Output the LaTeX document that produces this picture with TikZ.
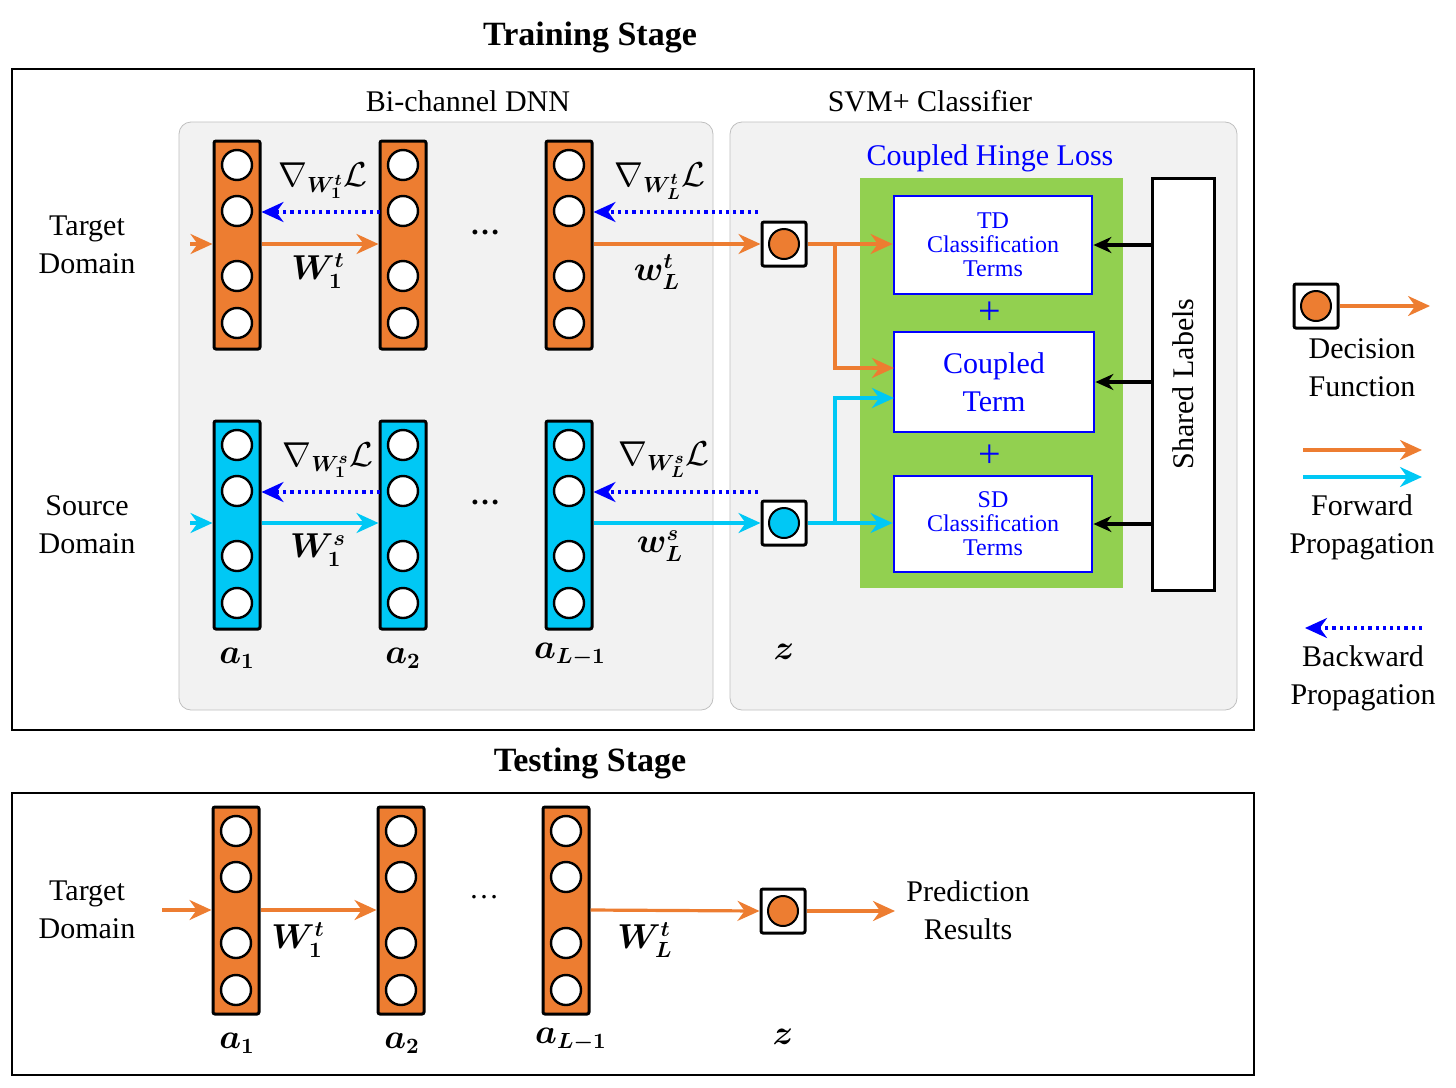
\documentclass[tikz,border=0pt]{standalone}
\usepackage{fontspec}
\usepackage{amsmath,bm}
\setmainfont{Liberation Serif}
\usetikzlibrary{arrows.meta}
\definecolor{org}{RGB}{237,125,49}
\definecolor{cya}{RGB}{0,200,245}
\definecolor{grn}{RGB}{146,208,80}
\definecolor{pnl}{RGB}{242,242,242}
\begin{document}
\begin{tikzpicture}[x=0.5pt,y=-0.5pt,
 layer/.style={draw=black,line width=1.5pt,rounded corners=1pt},
 neu/.style={draw=black,line width=1.2pt,fill=white,circle,minimum size=15pt,inner sep=0},
 fa/.style={-{Stealth[length=11pt,width=10pt]},line width=1.6pt},
 ba/.style={-{Stealth[length=11pt,width=10pt]},line width=1.6pt,blue,dotted},
 bk/.style={-{Stealth[length=9pt,width=8pt]},line width=1.6pt,black},
 tb/.style={draw=blue,line width=1.4pt,fill=white,text=blue,align=center},
 txt/.style={font=\fontsize{15}{19}\selectfont,align=center},
 lab/.style={font=\fontsize{16}{18}\selectfont}]
\useasboundingbox (0,0) rectangle (1456,1087);
% titles and boxes
\node[font=\bfseries\fontsize{17}{20}\selectfont] (t1) at (590,37) {Training Stage};
\draw[line width=1pt] (12,69) rectangle (1254,730);
\draw[rounded corners=6pt,fill=pnl,draw=gray!50] (179,122) rectangle (713,710);
\draw[rounded corners=6pt,fill=pnl,draw=gray!50] (730,122) rectangle (1237,710);
\node[txt] (bc) at (468,101) {Bi-channel DNN};
\node[txt] (svm) at (930,101) {SVM+ Classifier};
\fill[grn] (860,178) rectangle (1123,588);
\node[txt,text=blue] (chl) at (990,158) {Coupled Hinge Loss};
\node[draw,line width=1.5pt,fill=white,minimum width=31pt,minimum height=206pt,inner sep=0] (sl) at (1183,384) {};
\node[txt,rotate=90] at (1183,384) {Shared Labels};
\node[tb,minimum width=99pt,minimum height=49pt,font=\fontsize{12}{12}\selectfont,inner sep=0] (td) at (993,245) {TD\\Classification\\Terms};
\node[tb,minimum width=100pt,minimum height=50pt,font=\fontsize{15}{19}\selectfont,inner sep=0] (ct) at (994,382) {Coupled\\Term};
\node[tb,minimum width=99pt,minimum height=48pt,font=\fontsize{12}{12}\selectfont,inner sep=0] (sd) at (993,524) {SD\\Classification\\Terms};
\node[text=blue,font=\fontsize{20}{20}\selectfont] (p1) at (990,313) {+};
\node[text=blue,font=\fontsize{20}{20}\selectfont] (p2) at (990,456) {+};
\draw[bk] (sl.west|-td) -- (td.east);
\draw[bk] (sl.west|-ct) -- (ct.east);
\draw[bk] (sl.west|-sd) -- (sd.east);
% layers
\foreach \x/\n in {237/a,403/b,569/c}{
 \node[layer,fill=org,minimum width=23pt,minimum height=104pt,inner sep=0] (o\n) at (\x,245) {};
 \foreach \y in {165,211,276,323} \node[neu] at (\x,\y) {};
 \node[layer,fill=cya,minimum width=23pt,minimum height=104pt,inner sep=0] (s\n) at (\x,525) {};
 \foreach \y in {445,491,556,603} \node[neu] at (\x,\y) {};
}
\node[txt] at (485,232) {\textbf{\dots}};
\node[txt] at (485,502) {\textbf{\dots}};
\node[txt] (tdm) at (87,245) {Target\\Domain};
\node[txt] (sdm) at (87,525) {Source\\Domain};
% z nodes
\node[draw,line width=1.5pt,fill=white,minimum size=22pt,inner sep=0,rounded corners=1pt] (zo) at (784,244) {};
\fill[org,draw=black,line width=1pt] (zo) circle (7.5pt);
\node[draw,line width=1.5pt,fill=white,minimum size=22pt,inner sep=0,rounded corners=1pt] (zs) at (784,523) {};
\fill[cya,draw=black,line width=1pt] (zs) circle (7.5pt);
% forward
\coordinate (ti) at (190,244); \coordinate (si) at (190,523);
\draw[fa,org] (ti) -- (oa.west|-ti);
\draw[fa,org] (oa.east|-ti) -- (ob.west|-ti);
\draw[fa,org] (oc.east|-ti) -- (zo.west);
\draw[fa,cya] (si) -- (sa.west|-si);
\draw[fa,cya] (sa.east|-si) -- (sb.west|-si);
\draw[fa,cya] (sc.east|-si) -- (zs.west);
\draw[fa,org] (zo.east) -- (td.west|-zo);
\draw[fa,org] (835,244) |- (894,368);
\draw[fa,cya] (zs.east) -- (sd.west|-zs);
\draw[fa,cya] (835,523) |- (894,398);
% backward
\coordinate (b1) at (380,212); \coordinate (b2) at (758,212);
\coordinate (b3) at (380,492); \coordinate (b4) at (758,492);
\draw[ba] (b1) -- (oa.east|-b1);
\draw[ba] (b2) -- (oc.east|-b2);
\draw[ba] (b3) -- (sa.east|-b3);
\draw[ba] (b4) -- (sc.east|-b4);
% labels
\node[lab] at (318,271) {$\bm{W_1^t}$};
\node[lab] at (657,272) {$\bm{w_L^t}$};
\node[lab] at (318,550) {$\bm{W_1^s}$};
\node[lab] at (660,546) {$\bm{w_L^s}$};
\node[lab] at (323,181) {$\nabla_{\bm{W_1^t}}\mathcal{L}$};
\node[lab] at (660,181) {$\nabla_{\bm{W_L^t}}\mathcal{L}$};
\node[lab] at (328,460) {$\nabla_{\bm{W_1^s}}\mathcal{L}$};
\node[lab] at (664,460) {$\nabla_{\bm{W_L^s}}\mathcal{L}$};
\node[lab] at (237,658) {$\bm{a_1}$};
\node[lab] at (403,658) {$\bm{a_2}$};
\node[lab] at (570,655) {$\bm{a_{L-1}}$};
\node[lab] at (784,652) {$\bm{z}$};
% legend
\node[draw,line width=1.5pt,fill=white,minimum size=22pt,inner sep=0,rounded corners=1pt] (lz) at (1316,306) {};
\fill[org,draw=black,line width=1pt] (lz) circle (7.5pt);
\coordinate (le) at (1430,306);
\draw[fa,org] (lz.east) -- (le);
\node[txt] at (1362,368) {Decision\\Function};
\coordinate (f1) at (1303,450); \coordinate (f2) at (1422,450);
\coordinate (f3) at (1303,477); \coordinate (f4) at (1422,477);
\draw[fa,org] (f1) -- (f2);
\draw[fa,cya] (f3) -- (f4);
\node[txt] at (1362,527) {Forward\\Propagation};
\coordinate (g1) at (1422,628); \coordinate (g2) at (1305,628);
\draw[ba] (g1) -- (g2);
\node[txt] at (1363,678) {Backward\\Propagation};
% testing
\node[font=\bfseries\fontsize{17}{20}\selectfont] (t2) at (590,763) {Testing Stage};
\draw[line width=1pt] (12,793) rectangle (1254,1075);
\foreach \x/\n in {236/a,401/b,566/c}{
 \node[layer,fill=org,minimum width=23pt,minimum height=103.5pt,inner sep=0] (e\n) at (\x,910.5) {};
 \foreach \y in {831,877,943,990} \node[neu] at (\x,\y) {};
}
\node[txt] at (484,897) {\dots};
\node[txt] at (87,910) {Target\\Domain};
\node[draw,line width=1.5pt,fill=white,minimum size=22pt,inner sep=0,rounded corners=1pt] (ze) at (783,911) {};
\fill[org,draw=black,line width=1pt] (ze) circle (7.5pt);
\coordinate (ei) at (162,910); \coordinate (eo) at (895,911);
\draw[fa,org] (ei) -- (ea.west|-ei);
\draw[fa,org] (ea.east|-ei) -- (eb.west|-ei);
\draw[fa,org] (ec.east|-ei) -- (ze.west);
\draw[fa,org] (ze.east) -- (eo);
\node[txt] at (968,910) {Prediction\\Results};
\node[lab] at (298,940) {$\bm{W_1^t}$};
\node[lab] at (645,940) {$\bm{W_L^t}$};
\node[lab] at (237,1043) {$\bm{a_1}$};
\node[lab] at (402,1043) {$\bm{a_2}$};
\node[lab] at (571,1040) {$\bm{a_{L-1}}$};
\node[lab] at (783,1037) {$\bm{z}$};
\end{tikzpicture}
\end{document}
